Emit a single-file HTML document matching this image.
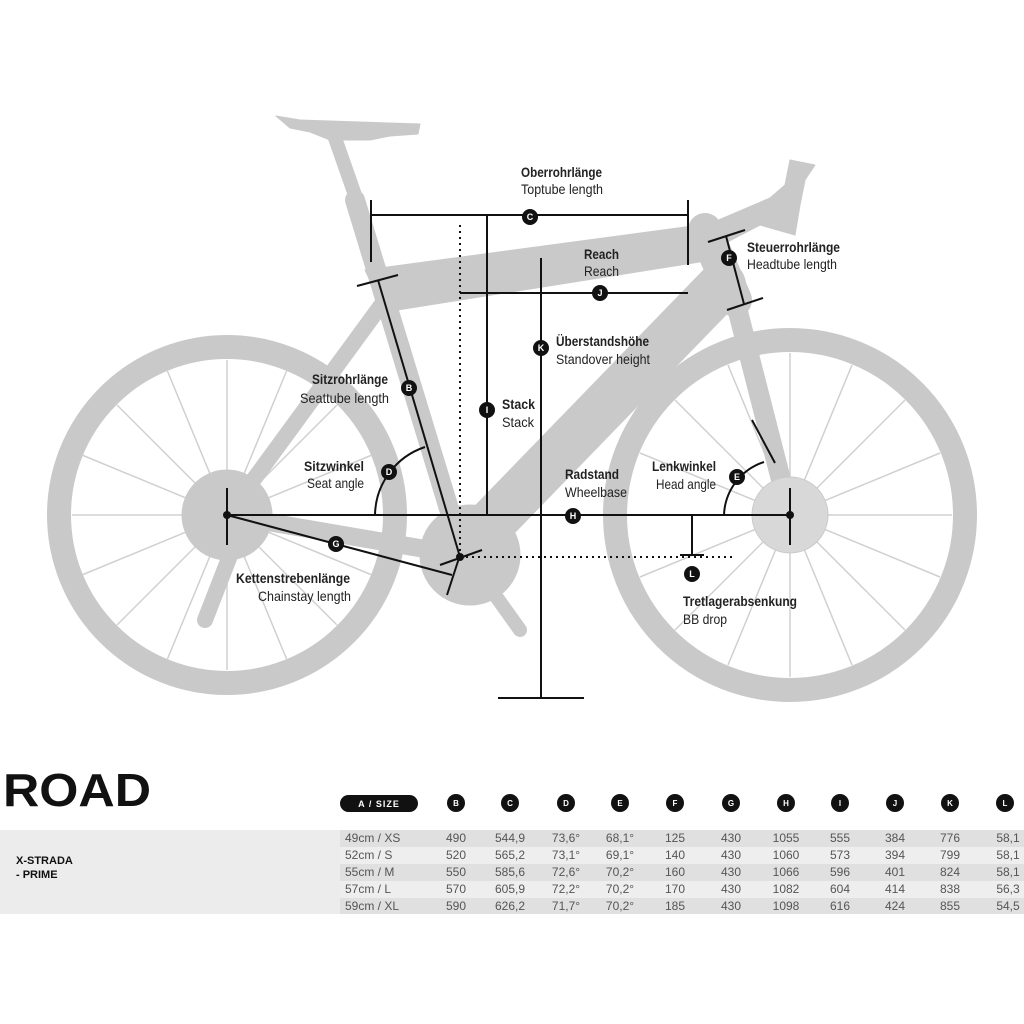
<!DOCTYPE html>
<html><head><meta charset="utf-8"><style>
body{margin:0;background:#fff;width:1024px;height:1024px;overflow:hidden;position:relative;font-family:"Liberation Sans",sans-serif}
svg{position:absolute;left:0;top:0}
</style></head><body>
<svg width="1024" height="1024" viewBox="0 0 1024 1024" xmlns="http://www.w3.org/2000/svg">
<g fill="none" stroke="#c9c9c9">
 <circle cx="227" cy="515" r="168" stroke-width="24"/>
 <circle cx="790" cy="515" r="175" stroke-width="24"/>
 <g stroke-width="1.5" stroke="#d0d0d0">
  <line x1="227" y1="360" x2="227" y2="670"/><line x1="72" y1="515" x2="382" y2="515"/>
  <line x1="117" y1="405" x2="337" y2="625"/><line x1="117" y1="625" x2="337" y2="405"/>
  <line x1="167" y1="370" x2="287" y2="660"/><line x1="287" y1="370" x2="167" y2="660"/>
  <line x1="82" y1="455" x2="372" y2="575"/><line x1="82" y1="575" x2="372" y2="455"/>
  <line x1="790" y1="353" x2="790" y2="677"/><line x1="628" y1="515" x2="952" y2="515"/>
  <line x1="675" y1="400" x2="905" y2="630"/><line x1="675" y1="630" x2="905" y2="400"/>
  <line x1="728" y1="365" x2="852" y2="665"/><line x1="852" y1="365" x2="728" y2="665"/>
  <line x1="640" y1="453" x2="940" y2="577"/><line x1="640" y1="577" x2="940" y2="453"/>
 </g>
</g>
<g fill="#c9c9c9" stroke="#c9c9c9" stroke-linecap="round" stroke-linejoin="round">
 <path d="M276 116 L300 120 L420 124 L418 134 L390 136 L370 140 L330 140 L310 132 L290 128 Z"/>
 <line x1="335" y1="138" x2="362" y2="215" stroke-width="14"/>
 <line x1="355" y1="200" x2="460" y2="545" stroke-width="20"/>
 <path d="M365 270 L700 225 L712 260 L385 312Z"/>
 <line x1="705" y1="230" x2="735" y2="300" stroke-width="34"/>
 <line x1="722" y1="285" x2="470" y2="545" stroke-width="48"/>
 <line x1="735" y1="300" x2="790" y2="515" stroke-width="20"/>
 <line x1="385" y1="300" x2="235" y2="505" stroke-width="16"/>
 <line x1="460" y1="555" x2="227" y2="515" stroke-width="18"/>
 <path d="M700 228 L770 198 L785 185 L790 160 L815 165 L805 180 L800 205 L795 235 L760 225 L712 250Z"/>
 <circle cx="470" cy="555" r="50"/>
 <circle cx="227" cy="515" r="45"/>
 <circle cx="790" cy="515" r="38" fill="#d8d8d8"/>
 <line x1="470" y1="560" x2="520" y2="630" stroke-width="14"/>
 <line x1="240" y1="530" x2="205" y2="620" stroke-width="16"/>
</g>
<g stroke="#111" stroke-width="2" fill="none">
 <line x1="371" y1="215" x2="688" y2="215"/><line x1="371" y1="200" x2="371" y2="262"/><line x1="688" y1="200" x2="688" y2="265"/>
 <line x1="487" y1="215" x2="487" y2="515"/>
 <line x1="460" y1="293" x2="688" y2="293"/>
 <line x1="460" y1="225" x2="460" y2="560" stroke-dasharray="2 4"/>
 <line x1="541" y1="258" x2="541" y2="698"/><line x1="498" y1="698" x2="584" y2="698"/>
 <line x1="708" y1="242" x2="745" y2="230"/><line x1="727" y1="310" x2="763" y2="298"/><line x1="726" y1="236" x2="744" y2="304"/>
 <line x1="378" y1="280" x2="460" y2="557"/><line x1="357" y1="286" x2="398" y2="275"/>
 <path d="M375 515 A73 73 0 0 1 425 447"/>
 <line x1="227" y1="515" x2="452" y2="575"/><line x1="447" y1="595" x2="460" y2="555"/><line x1="440" y1="565" x2="482" y2="550"/>
 <line x1="460" y1="557" x2="735" y2="557" stroke-dasharray="2 4"/>
 <line x1="227" y1="515" x2="790" y2="515"/><line x1="227" y1="488" x2="227" y2="545"/><line x1="790" y1="488" x2="790" y2="545"/>
 <line x1="692" y1="515" x2="692" y2="555"/><line x1="680" y1="555" x2="704" y2="555"/>
 <path d="M724 515 A58 58 0 0 1 764 462"/><line x1="752" y1="420" x2="775" y2="463"/>
</g>
<g fill="#111"><circle cx="227" cy="515" r="4"/><circle cx="790" cy="515" r="4"/><circle cx="460" cy="557" r="4"/></g>
<g font-family="Liberation Sans,sans-serif" font-weight="bold" font-size="9" text-anchor="middle">
 <g fill="#111"><circle cx="530" cy="217" r="8"/><circle cx="487" cy="410" r="8"/><circle cx="600" cy="293" r="8"/><circle cx="541" cy="348" r="8"/><circle cx="729" cy="258" r="8"/><circle cx="409" cy="388" r="8"/><circle cx="389" cy="472" r="8"/><circle cx="336" cy="544" r="8"/><circle cx="573" cy="516" r="8"/><circle cx="692" cy="574" r="8"/><circle cx="737" cy="477" r="8"/></g>
 <g fill="#fff"><text x="530" y="220">C</text><text x="487" y="413">I</text><text x="600" y="296">J</text><text x="541" y="351">K</text><text x="729" y="261">F</text><text x="409" y="391">B</text><text x="389" y="475">D</text><text x="336" y="547">G</text><text x="573" y="519">H</text><text x="692" y="577">L</text><text x="737" y="480">E</text></g>
</g>
<g font-family="Liberation Sans,sans-serif" font-size="14" fill="#222" lengthAdjust="spacingAndGlyphs">
 <text x="521" y="177" font-weight="bold" textLength="81" lengthAdjust="spacingAndGlyphs">Oberrohrlänge</text><text x="521" y="194" textLength="82" lengthAdjust="spacingAndGlyphs">Toptube length</text>
 <text x="584" y="259" font-weight="bold" textLength="35" lengthAdjust="spacingAndGlyphs">Reach</text><text x="584" y="276" textLength="35" lengthAdjust="spacingAndGlyphs">Reach</text>
 <text x="747" y="252" font-weight="bold" textLength="93" lengthAdjust="spacingAndGlyphs">Steuerrohrlänge</text><text x="747" y="269" textLength="90" lengthAdjust="spacingAndGlyphs">Headtube length</text>
 <text x="556" y="346" font-weight="bold" textLength="93" lengthAdjust="spacingAndGlyphs">Überstandshöhe</text><text x="556" y="364" textLength="94" lengthAdjust="spacingAndGlyphs">Standover height</text>
 <text x="312" y="384" font-weight="bold" textLength="76" lengthAdjust="spacingAndGlyphs">Sitzrohrlänge</text><text x="300" y="403" textLength="89" lengthAdjust="spacingAndGlyphs">Seattube length</text>
 <text x="502" y="409" font-weight="bold" textLength="33" lengthAdjust="spacingAndGlyphs">Stack</text><text x="502" y="427" textLength="32" lengthAdjust="spacingAndGlyphs">Stack</text>
 <text x="304" y="471" font-weight="bold" textLength="60" lengthAdjust="spacingAndGlyphs">Sitzwinkel</text><text x="307" y="488" textLength="57" lengthAdjust="spacingAndGlyphs">Seat angle</text>
 <text x="565" y="479" font-weight="bold" textLength="54" lengthAdjust="spacingAndGlyphs">Radstand</text><text x="565" y="497" textLength="62" lengthAdjust="spacingAndGlyphs">Wheelbase</text>
 <text x="652" y="471" font-weight="bold" textLength="64" lengthAdjust="spacingAndGlyphs">Lenkwinkel</text><text x="656" y="489" textLength="60" lengthAdjust="spacingAndGlyphs">Head angle</text>
 <text x="236" y="583" font-weight="bold" textLength="114" lengthAdjust="spacingAndGlyphs">Kettenstrebenlänge</text><text x="258" y="601" textLength="93" lengthAdjust="spacingAndGlyphs">Chainstay length</text>
 <text x="683" y="606" font-weight="bold" textLength="114" lengthAdjust="spacingAndGlyphs">Tretlagerabsenkung</text><text x="683" y="624" textLength="44" lengthAdjust="spacingAndGlyphs">BB drop</text>
</g>
<!-- table -->
<text x="3" y="806" font-family="Liberation Sans,sans-serif" font-weight="bold" font-size="46" fill="#111" textLength="148" lengthAdjust="spacingAndGlyphs">ROAD</text>
<rect x="0" y="830" width="1024" height="84" fill="#ececec"/>
<rect x="340" y="830" width="684" height="17" fill="#e0e0e0"/>
<rect x="340" y="847" width="684" height="17" fill="#eeeeee"/>
<rect x="340" y="864" width="684" height="17" fill="#e0e0e0"/>
<rect x="340" y="881" width="684" height="17" fill="#eeeeee"/>
<rect x="340" y="898" width="684" height="16" fill="#e0e0e0"/>
<g font-family="Liberation Sans,sans-serif" font-weight="bold" font-size="11" fill="#111"><text x="16" y="864">X-STRADA</text><text x="16" y="878">- PRIME</text></g>
<rect x="340" y="795" width="78" height="17" rx="8.5" fill="#111"/>
<text x="379" y="807" font-family="Liberation Sans,sans-serif" font-weight="bold" font-size="9" fill="#fff" text-anchor="middle" letter-spacing="1">A / SIZE</text>
<g fill="#111"><circle cx="456" cy="803" r="9"/><circle cx="510" cy="803" r="9"/><circle cx="566" cy="803" r="9"/><circle cx="620" cy="803" r="9"/><circle cx="675" cy="803" r="9"/><circle cx="731" cy="803" r="9"/><circle cx="786" cy="803" r="9"/><circle cx="840" cy="803" r="9"/><circle cx="895" cy="803" r="9"/><circle cx="950" cy="803" r="9"/><circle cx="1005" cy="803" r="9"/></g>
<g fill="#fff" font-family="Liberation Sans,sans-serif" font-weight="bold" font-size="8" text-anchor="middle"><text x="456" y="806">B</text><text x="510" y="806">C</text><text x="566" y="806">D</text><text x="620" y="806">E</text><text x="675" y="806">F</text><text x="731" y="806">G</text><text x="786" y="806">H</text><text x="840" y="806">I</text><text x="895" y="806">J</text><text x="950" y="806">K</text><text x="1005" y="806">L</text></g>
<g font-family="Liberation Sans,sans-serif" font-size="12" fill="#555">
 <text x="345" y="842">49cm  /  XS</text><text x="345" y="859">52cm  /  S</text><text x="345" y="876">55cm  /  M</text><text x="345" y="893">57cm  /  L</text><text x="345" y="910">59cm  /  XL</text>
 <g text-anchor="middle">
 <text x="456" y="842">490</text><text x="510" y="842">544,9</text><text x="566" y="842">73,6°</text><text x="620" y="842">68,1°</text><text x="675" y="842">125</text><text x="731" y="842">430</text><text x="786" y="842">1055</text><text x="840" y="842">555</text><text x="895" y="842">384</text><text x="950" y="842">776</text><text x="1008" y="842">58,1</text>
 <text x="456" y="859">520</text><text x="510" y="859">565,2</text><text x="566" y="859">73,1°</text><text x="620" y="859">69,1°</text><text x="675" y="859">140</text><text x="731" y="859">430</text><text x="786" y="859">1060</text><text x="840" y="859">573</text><text x="895" y="859">394</text><text x="950" y="859">799</text><text x="1008" y="859">58,1</text>
 <text x="456" y="876">550</text><text x="510" y="876">585,6</text><text x="566" y="876">72,6°</text><text x="620" y="876">70,2°</text><text x="675" y="876">160</text><text x="731" y="876">430</text><text x="786" y="876">1066</text><text x="840" y="876">596</text><text x="895" y="876">401</text><text x="950" y="876">824</text><text x="1008" y="876">58,1</text>
 <text x="456" y="893">570</text><text x="510" y="893">605,9</text><text x="566" y="893">72,2°</text><text x="620" y="893">70,2°</text><text x="675" y="893">170</text><text x="731" y="893">430</text><text x="786" y="893">1082</text><text x="840" y="893">604</text><text x="895" y="893">414</text><text x="950" y="893">838</text><text x="1008" y="893">56,3</text>
 <text x="456" y="910">590</text><text x="510" y="910">626,2</text><text x="566" y="910">71,7°</text><text x="620" y="910">70,2°</text><text x="675" y="910">185</text><text x="731" y="910">430</text><text x="786" y="910">1098</text><text x="840" y="910">616</text><text x="895" y="910">424</text><text x="950" y="910">855</text><text x="1008" y="910">54,5</text>
 </g>
</g>
</svg>
</body></html>
